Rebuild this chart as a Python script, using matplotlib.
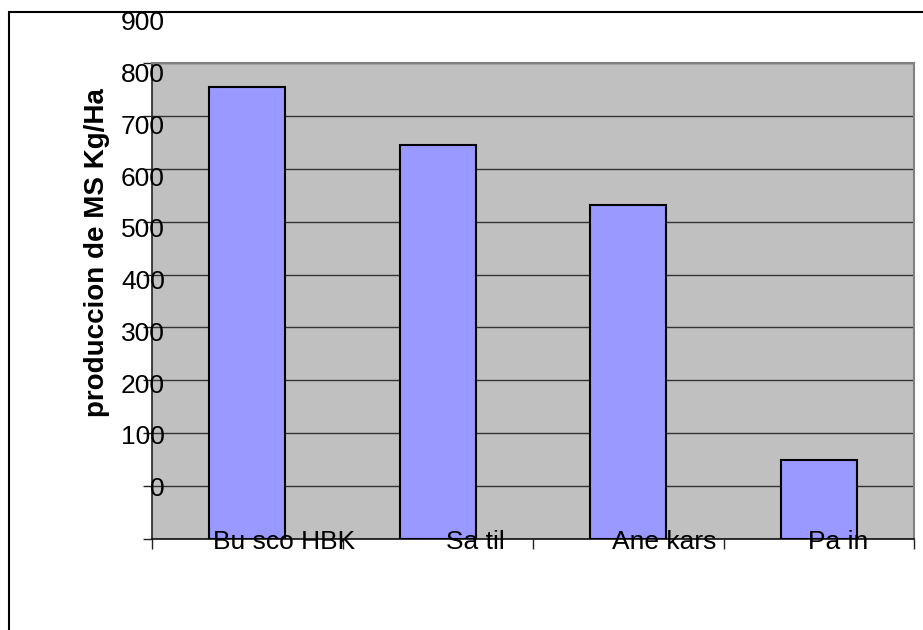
import matplotlib
matplotlib.use("Agg")
import matplotlib.pyplot as plt
from matplotlib.patches import Rectangle
from matplotlib.transforms import Bbox
import numpy as np

plt.rcParams['font.family'] = ['Liberation Sans', 'DejaVu Sans']

# data
species = ["Bu sco HBK", "Sa til", "Ane kars", "Pa in"]
produccion = [754, 645, 532, 50]
ytick_labels = [0, 100, 200, 300, 400, 500, 600, 700, 800, 900]

fs = 19
fig = plt.figure(figsize=(9.23, 6.30), dpi=100)
ax = fig.add_axes([152 / 923, 1 - 539 / 630, 762 / 923, 476 / 630])
ax.set_facecolor('#C0C0C0')

x = np.arange(len(species))
ax.bar(x, produccion, width=0.4, color='#9999FF',
       edgecolor='black', linewidth=1.5, zorder=3)
# bars in the original start at the category axis (-100)
for p in ax.patches:
    p.set_y(-100)
    p.set_height(p.get_height() + 100)

ax.set_xlim(-0.5, len(species) - 0.5)
ax.set_ylim(-100, 800)

# gridlines / ticks
ax.set_yticks(np.arange(-100, 801, 100))
ax.yaxis.grid(True, color='#333333', linewidth=1, zorder=1)
ax.set_axisbelow(True)
ax.tick_params(axis='y', direction='out', length=6.5, width=1, color='#222222',
               labelleft=False)
ax.set_xticks([])
ax.set_xticks(np.arange(-0.5, len(species)), minor=True)
ax.tick_params(axis='x', which='minor', direction='out', length=7, width=1,
               color='#222222')

for s in ['top', 'right']:
    ax.spines[s].set_color('#808080')
    ax.spines[s].set_linewidth(1.5)
ax.spines['left'].set_color('#222222')
ax.spines['bottom'].set_color('#111111')
ax.spines['left'].set_linewidth(1.2)
ax.spines['bottom'].set_linewidth(1.2)

# value labels (slightly compressed spacing, like the original)
for v in ytick_labels:
    ax.text(0.017, 0.978 * v - 5.5, str(v), transform=ax.get_yaxis_transform(),
            ha='right', va='center', fontsize=fs, clip_on=False, zorder=5)

# category labels, clipped at the bottom like in the original
label_left = [-0.18, 1.043, 1.915, 2.944]
clip = Bbox.from_extents(0, 630 - 553, 923, 630)
for xi, name in zip(label_left, species):
    t = ax.text(xi, -0.02, name, transform=ax.get_xaxis_transform(),
                ha='left', va='baseline', fontsize=fs, zorder=5)
    t.set_clip_on(True)
    t.set_clip_box(clip)

fig.text(97 / 923, 1 - 253 / 630, "produccion de MS Kg/Ha", rotation=90,
         ha='center', va='center', fontsize=20, fontweight='bold')

# chart area border
fig.add_artist(Rectangle((9 / 923, -0.1), 1.2, 1.1 - 12 / 630,
                         transform=fig.transFigure, fill=False,
                         edgecolor='black', linewidth=1.5))

fig.savefig("out.png", dpi=100)
